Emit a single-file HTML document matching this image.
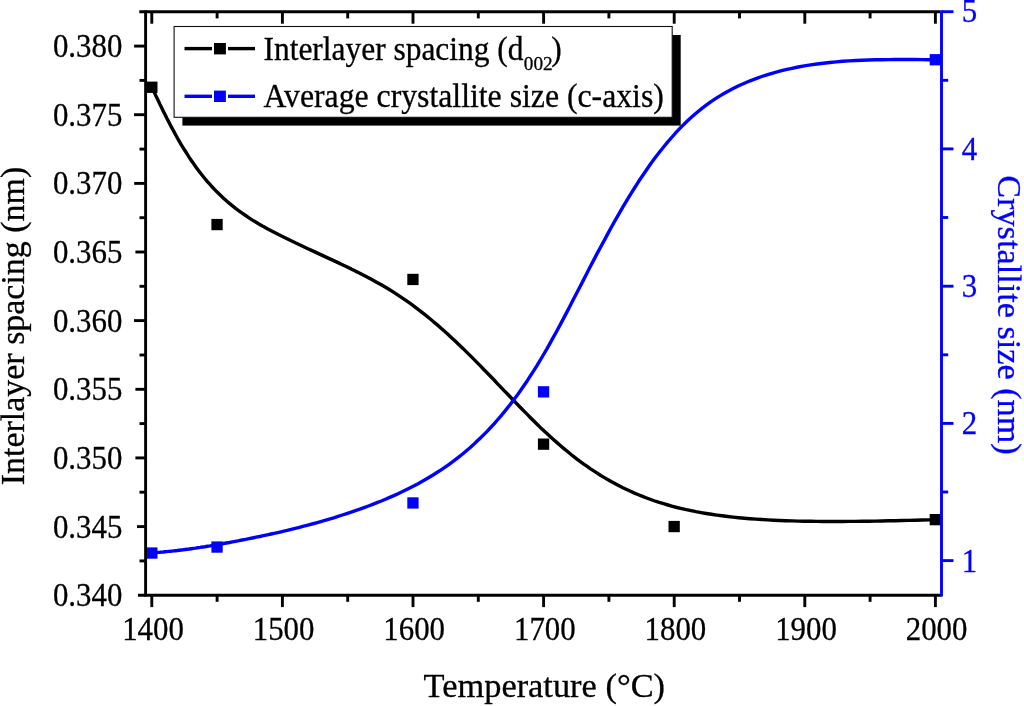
<!DOCTYPE html>
<html><head><meta charset="utf-8"><title>chart</title>
<style>html,body{margin:0;padding:0;background:#fff}body{width:1024px;height:706px;overflow:hidden;position:relative;font-family:"Liberation Serif",serif}svg{position:absolute;left:0;top:0;display:block;will-change:transform}</style></head>
<body>
<svg width="1024" height="706" viewBox="0 0 1024 706">
<rect width="1024" height="706" fill="#fff"/>
<polyline points="151.8,87.3 153.4,90.7 155.1,94.1 156.7,97.6 158.4,101.0 160.0,104.4 161.7,107.8 163.3,111.2 165.0,114.6 166.7,118.0 168.5,121.4 170.2,124.7 172.0,128.1 173.8,131.4 175.6,134.7 177.4,138.0 179.3,141.3 181.2,144.6 183.2,147.8 185.2,151.0 187.2,154.2 189.2,157.4 191.3,160.5 193.5,163.6 195.7,166.7 197.9,169.7 200.2,172.7 202.6,175.7 205.0,178.7 207.4,181.6 210.0,184.4 212.5,187.3 215.2,190.1 217.9,192.8 220.7,195.5 223.5,198.2 226.4,200.8 229.4,203.4 232.5,205.9 235.6,208.4 238.9,210.8 242.2,213.2 245.6,215.5 249.0,217.8 252.5,220.1 256.1,222.3 259.8,224.4 263.5,226.6 267.3,228.7 271.2,230.7 275.1,232.8 279.0,234.8 283.0,236.8 287.1,238.8 291.2,240.8 295.3,242.8 299.5,244.7 303.7,246.7 307.9,248.7 312.1,250.6 316.4,252.6 320.7,254.6 325.0,256.6 329.3,258.6 333.7,260.6 338.0,262.6 342.4,264.7 346.7,266.8 351.1,268.9 355.4,271.1 359.8,273.2 364.1,275.5 368.4,277.7 372.7,280.1 377.0,282.4 381.3,284.8 385.5,287.3 389.7,289.8 393.9,292.4 398.0,295.1 402.1,297.8 406.2,300.6 410.2,303.4 414.2,306.3 418.1,309.3 422.0,312.3 425.9,315.4 429.7,318.5 433.5,321.7 437.3,324.9 441.1,328.2 444.8,331.5 448.4,334.8 452.1,338.2 455.7,341.6 459.3,345.0 462.9,348.4 466.4,351.9 470.0,355.4 473.5,358.9 476.9,362.4 480.4,365.9 483.8,369.5 487.3,373.0 490.7,376.5 494.1,380.0 497.4,383.6 500.8,387.1 504.1,390.6 507.5,394.0 510.8,397.5 514.1,401.0 517.4,404.4 520.7,407.8 524.0,411.1 527.3,414.4 530.5,417.7 533.8,421.0 537.1,424.2 540.3,427.4 543.6,430.5 546.9,433.5 550.1,436.5 553.4,439.5 556.7,442.4 560.0,445.3 563.3,448.1 566.6,450.8 569.9,453.5 573.2,456.2 576.6,458.8 580.0,461.3 583.4,463.8 586.8,466.2 590.2,468.6 593.7,470.9 597.2,473.2 600.8,475.5 604.4,477.6 608.0,479.7 611.6,481.8 615.3,483.8 619.1,485.8 622.8,487.7 626.7,489.5 630.5,491.3 634.5,493.1 638.4,494.7 642.5,496.4 646.6,498.0 650.7,499.5 654.9,501.0 659.2,502.4 663.6,503.7 668.0,505.0 672.5,506.3 677.0,507.5 681.6,508.6 686.3,509.7 691.1,510.7 696.0,511.7 701.0,512.6 706.2,513.5 711.4,514.3 716.7,515.1 722.1,515.8 727.6,516.5 733.1,517.1 738.7,517.7 744.4,518.2 750.1,518.7 755.9,519.1 761.8,519.5 767.7,519.9 773.7,520.2 779.7,520.5 785.8,520.7 792.0,520.9 798.2,521.1 804.4,521.2 810.7,521.3 817.0,521.4 823.3,521.5 829.7,521.5 836.2,521.5 842.6,521.5 849.1,521.4 855.7,521.4 862.2,521.3 868.8,521.2 875.4,521.1 882.0,521.0 888.6,520.8 895.3,520.7 902.0,520.5 908.6,520.4 915.3,520.2 922.0,520.0 928.7,519.9 935.4,519.7" fill="none" stroke="#000" stroke-width="3.4" stroke-linejoin="round"/>
<polyline points="151.8,553.1 153.4,552.9 155.1,552.7 156.7,552.6 158.4,552.4 160.0,552.3 161.7,552.1 163.3,552.0 165.0,551.8 166.7,551.6 168.5,551.4 170.2,551.3 172.0,551.1 173.8,550.9 175.6,550.7 177.4,550.5 179.3,550.2 181.2,550.0 183.2,549.8 185.2,549.5 187.2,549.2 189.2,549.0 191.3,548.7 193.5,548.4 195.7,548.1 197.9,547.7 200.2,547.4 202.6,547.0 205.0,546.7 207.4,546.3 210.0,545.9 212.5,545.4 215.2,545.0 217.9,544.5 220.7,544.0 223.5,543.5 226.4,543.0 229.4,542.5 232.5,541.9 235.6,541.3 238.9,540.7 242.2,540.0 245.6,539.4 249.0,538.7 252.5,538.0 256.1,537.2 259.8,536.5 263.5,535.7 267.3,534.9 271.2,534.0 275.1,533.2 279.0,532.3 283.0,531.3 287.1,530.4 291.2,529.4 295.3,528.4 299.5,527.3 303.7,526.2 307.9,525.1 312.1,524.0 316.4,522.8 320.7,521.6 325.0,520.3 329.3,519.1 333.7,517.8 338.0,516.4 342.4,515.0 346.7,513.6 351.1,512.2 355.4,510.7 359.8,509.2 364.1,507.6 368.4,506.0 372.7,504.4 377.0,502.7 381.3,501.0 385.5,499.2 389.7,497.4 393.9,495.6 398.0,493.7 402.1,491.8 406.2,489.8 410.2,487.8 414.2,485.8 418.1,483.7 422.0,481.5 425.9,479.3 429.7,477.0 433.5,474.7 437.3,472.3 441.1,469.9 444.8,467.4 448.4,464.8 452.1,462.1 455.7,459.4 459.3,456.6 462.9,453.7 466.4,450.7 470.0,447.7 473.5,444.6 476.9,441.3 480.4,438.0 483.8,434.6 487.3,431.1 490.7,427.5 494.1,423.8 497.4,420.0 500.8,416.1 504.1,412.1 507.5,407.9 510.8,403.7 514.1,399.3 517.4,394.9 520.7,390.3 524.0,385.6 527.3,380.7 530.5,375.7 533.8,370.6 537.1,365.4 540.3,360.0 543.6,354.5 546.9,348.9 550.1,343.1 553.4,337.2 556.7,331.2 560.0,325.1 563.3,318.9 566.6,312.6 569.9,306.2 573.2,299.8 576.6,293.3 580.0,286.7 583.4,280.1 586.8,273.5 590.2,266.8 593.7,260.1 597.2,253.4 600.8,246.7 604.4,240.1 608.0,233.4 611.6,226.8 615.3,220.2 619.1,213.6 622.8,207.1 626.7,200.7 630.5,194.3 634.5,188.0 638.4,181.8 642.5,175.7 646.6,169.7 650.7,163.8 654.9,158.1 659.2,152.5 663.6,147.0 668.0,141.6 672.5,136.5 677.0,131.4 681.6,126.6 686.3,122.0 691.1,117.5 696.0,113.2 701.0,109.1 706.2,105.2 711.4,101.4 716.7,97.9 722.1,94.6 727.6,91.5 733.1,88.6 738.7,85.8 744.4,83.2 750.1,80.8 755.9,78.6 761.8,76.5 767.7,74.6 773.7,72.8 779.7,71.2 785.8,69.7 792.0,68.3 798.2,67.0 804.4,65.9 810.7,64.9 817.0,64.0 823.3,63.2 829.7,62.5 836.2,61.9 842.6,61.3 849.1,60.9 855.7,60.5 862.2,60.2 868.8,60.0 875.4,59.8 882.0,59.7 888.6,59.6 895.3,59.5 902.0,59.5 908.6,59.5 915.3,59.5 922.0,59.6 928.7,59.7 935.4,59.7" fill="none" stroke="#0000ff" stroke-width="3.4" stroke-linejoin="round"/>
<rect x="146.2" y="81.6" width="11.3" height="11.3" fill="#000"/>
<rect x="211.4" y="218.9" width="11.3" height="11.3" fill="#000"/>
<rect x="407.3" y="273.8" width="11.3" height="11.3" fill="#000"/>
<rect x="537.9" y="438.5" width="11.3" height="11.3" fill="#000"/>
<rect x="668.5" y="520.9" width="11.3" height="11.3" fill="#000"/>
<rect x="929.7" y="514.0" width="11.3" height="11.3" fill="#000"/>
<rect x="146.2" y="547.4" width="11.3" height="11.3" fill="#0000ff"/>
<rect x="211.4" y="541.4" width="11.3" height="11.3" fill="#0000ff"/>
<rect x="407.3" y="497.3" width="11.3" height="11.3" fill="#0000ff"/>
<rect x="537.9" y="386.2" width="11.3" height="11.3" fill="#0000ff"/>
<rect x="668.5" y="51.3" width="11.3" height="11.3" fill="#0000ff"/>
<rect x="929.7" y="54.1" width="11.3" height="11.3" fill="#0000ff"/>
<g stroke="#000" stroke-width="2.9" fill="none">
<line x1="138" y1="595.2" x2="941.5" y2="595.2"/>
<line x1="139.3" y1="11.8" x2="940" y2="11.8"/>
<line x1="145.6" y1="10.4" x2="145.6" y2="596.6"/>
<line x1="151.8" y1="596" x2="151.8" y2="607.1"/>
<line x1="151.8" y1="12" x2="151.8" y2="23.7"/>
<line x1="217.1" y1="596" x2="217.1" y2="601.8"/>
<line x1="217.1" y1="12" x2="217.1" y2="18.4"/>
<line x1="282.4" y1="596" x2="282.4" y2="607.1"/>
<line x1="282.4" y1="12" x2="282.4" y2="23.7"/>
<line x1="347.7" y1="596" x2="347.7" y2="601.8"/>
<line x1="347.7" y1="12" x2="347.7" y2="18.4"/>
<line x1="413.0" y1="596" x2="413.0" y2="607.1"/>
<line x1="413.0" y1="12" x2="413.0" y2="23.7"/>
<line x1="478.3" y1="596" x2="478.3" y2="601.8"/>
<line x1="478.3" y1="12" x2="478.3" y2="18.4"/>
<line x1="543.6" y1="596" x2="543.6" y2="607.1"/>
<line x1="543.6" y1="12" x2="543.6" y2="23.7"/>
<line x1="608.9" y1="596" x2="608.9" y2="601.8"/>
<line x1="608.9" y1="12" x2="608.9" y2="18.4"/>
<line x1="674.2" y1="596" x2="674.2" y2="607.1"/>
<line x1="674.2" y1="12" x2="674.2" y2="23.7"/>
<line x1="739.5" y1="596" x2="739.5" y2="601.8"/>
<line x1="739.5" y1="12" x2="739.5" y2="18.4"/>
<line x1="804.8" y1="596" x2="804.8" y2="607.1"/>
<line x1="804.8" y1="12" x2="804.8" y2="23.7"/>
<line x1="870.1" y1="596" x2="870.1" y2="601.8"/>
<line x1="870.1" y1="12" x2="870.1" y2="18.4"/>
<line x1="935.4" y1="596" x2="935.4" y2="607.1"/>
<line x1="935.4" y1="12" x2="935.4" y2="23.7"/>
<line x1="139.5" y1="560.9" x2="145" y2="560.9"/>
<line x1="137.0" y1="526.6" x2="145" y2="526.6"/>
<line x1="139.5" y1="492.2" x2="145" y2="492.2"/>
<line x1="135.4" y1="457.9" x2="145" y2="457.9"/>
<line x1="139.5" y1="423.6" x2="145" y2="423.6"/>
<line x1="135.4" y1="389.3" x2="145" y2="389.3"/>
<line x1="139.5" y1="355.0" x2="145" y2="355.0"/>
<line x1="134.0" y1="320.6" x2="145" y2="320.6"/>
<line x1="139.5" y1="286.3" x2="145" y2="286.3"/>
<line x1="135.4" y1="252.0" x2="145" y2="252.0"/>
<line x1="139.5" y1="217.7" x2="145" y2="217.7"/>
<line x1="134.2" y1="183.4" x2="145" y2="183.4"/>
<line x1="139.5" y1="149.1" x2="145" y2="149.1"/>
<line x1="134.0" y1="114.7" x2="145" y2="114.7"/>
<line x1="139.5" y1="80.4" x2="145" y2="80.4"/>
<line x1="134.1" y1="46.1" x2="145" y2="46.1"/>
</g>
<g stroke="#0000ff" stroke-width="2.9" fill="none">
<line x1="941.5" y1="10.3" x2="941.5" y2="596.6"/>
<line x1="942" y1="560.6" x2="953.5" y2="560.6"/>
<line x1="942" y1="492.0" x2="948.2" y2="492.0"/>
<line x1="942" y1="423.4" x2="953.5" y2="423.4"/>
<line x1="942" y1="354.8" x2="948.2" y2="354.8"/>
<line x1="942" y1="286.2" x2="953.5" y2="286.2"/>
<line x1="942" y1="217.5" x2="948.2" y2="217.5"/>
<line x1="942" y1="148.9" x2="953.5" y2="148.9"/>
<line x1="942" y1="80.3" x2="948.2" y2="80.3"/>
<line x1="942" y1="11.7" x2="953.5" y2="11.7"/>
</g>
<rect x="182.4" y="35" width="498.3" height="90.6" fill="#000"/>
<rect x="174.1" y="26.5" width="498.1" height="90.8" fill="#fff" stroke="#111" stroke-width="1.1"/>
<g stroke-width="3.4">
<line x1="184.5" y1="48.6" x2="212" y2="48.6" stroke="#000"/><line x1="228" y1="48.6" x2="255" y2="48.6" stroke="#000"/>
<rect x="214" y="43" width="11.9" height="11.4" fill="#000"/>
<line x1="184.5" y1="96.3" x2="212" y2="96.3" stroke="#0000ff"/><line x1="228" y1="96.3" x2="255" y2="96.3" stroke="#0000ff"/>
<rect x="214" y="90.6" width="11.9" height="11.4" fill="#0000ff"/>
</g>
<g font-family="Liberation Serif, serif">
<text transform="translate(263.50,59.60) scale(0.9612,1)" font-size="32.7px" text-anchor="start" fill="#000" stroke="#000" stroke-width="0.3">Interlayer spacing (d</text>
<text transform="translate(523.80,70.20) scale(1.03,1)" font-size="18.7px" text-anchor="start" fill="#000" stroke="#000" stroke-width="0.3">002</text>
<text transform="translate(551.20,59.60) scale(0.96,1)" font-size="32.7px" text-anchor="start" fill="#000" stroke="#000" stroke-width="0.3">)</text>
<text transform="translate(263.50,107.00) scale(0.9708,1)" font-size="32.7px" text-anchor="start" fill="#000" stroke="#000" stroke-width="0.3">Average crystallite size (c-axis)</text>
<text transform="translate(122.30,606.20) scale(0.935,1)" font-size="33.0px" text-anchor="end" fill="#000" stroke="#000" stroke-width="0.3">0.340</text>
<text transform="translate(122.30,537.56) scale(0.935,1)" font-size="33.0px" text-anchor="end" fill="#000" stroke="#000" stroke-width="0.3">0.345</text>
<text transform="translate(122.30,468.92) scale(0.935,1)" font-size="33.0px" text-anchor="end" fill="#000" stroke="#000" stroke-width="0.3">0.350</text>
<text transform="translate(122.30,400.29) scale(0.935,1)" font-size="33.0px" text-anchor="end" fill="#000" stroke="#000" stroke-width="0.3">0.355</text>
<text transform="translate(122.30,331.65) scale(0.935,1)" font-size="33.0px" text-anchor="end" fill="#000" stroke="#000" stroke-width="0.3">0.360</text>
<text transform="translate(122.30,263.01) scale(0.935,1)" font-size="33.0px" text-anchor="end" fill="#000" stroke="#000" stroke-width="0.3">0.365</text>
<text transform="translate(122.30,194.38) scale(0.935,1)" font-size="33.0px" text-anchor="end" fill="#000" stroke="#000" stroke-width="0.3">0.370</text>
<text transform="translate(122.30,125.74) scale(0.935,1)" font-size="33.0px" text-anchor="end" fill="#000" stroke="#000" stroke-width="0.3">0.375</text>
<text transform="translate(122.30,57.10) scale(0.935,1)" font-size="33.0px" text-anchor="end" fill="#000" stroke="#000" stroke-width="0.3">0.380</text>
<text transform="translate(153.00,639.60) scale(0.935,1)" font-size="33.0px" text-anchor="middle" fill="#000" stroke="#000" stroke-width="0.3">1400</text>
<text transform="translate(283.60,639.60) scale(0.935,1)" font-size="33.0px" text-anchor="middle" fill="#000" stroke="#000" stroke-width="0.3">1500</text>
<text transform="translate(414.20,639.60) scale(0.935,1)" font-size="33.0px" text-anchor="middle" fill="#000" stroke="#000" stroke-width="0.3">1600</text>
<text transform="translate(544.80,639.60) scale(0.935,1)" font-size="33.0px" text-anchor="middle" fill="#000" stroke="#000" stroke-width="0.3">1700</text>
<text transform="translate(675.40,639.60) scale(0.935,1)" font-size="33.0px" text-anchor="middle" fill="#000" stroke="#000" stroke-width="0.3">1800</text>
<text transform="translate(806.00,639.60) scale(0.935,1)" font-size="33.0px" text-anchor="middle" fill="#000" stroke="#000" stroke-width="0.3">1900</text>
<text transform="translate(936.60,639.60) scale(0.935,1)" font-size="33.0px" text-anchor="middle" fill="#000" stroke="#000" stroke-width="0.3">2000</text>
<text transform="translate(544.30,697.00) scale(1.018,1)" font-size="33.8px" text-anchor="middle" fill="#000" stroke="#000" stroke-width="0.3">Temperature (°C)</text>
<text transform="translate(24.20,326.00) rotate(-90) scale(1.004,1)" font-size="33.8px" text-anchor="middle" fill="#000" stroke="#000" stroke-width="0.3">Interlayer spacing (nm)</text>
<text transform="translate(961.80,571.60) scale(0.935,1)" font-size="33.0px" text-anchor="start" fill="#0000ff" stroke="#0000ff" stroke-width="0.3">1</text>
<text transform="translate(961.80,434.38) scale(0.935,1)" font-size="33.0px" text-anchor="start" fill="#0000ff" stroke="#0000ff" stroke-width="0.3">2</text>
<text transform="translate(961.80,297.15) scale(0.935,1)" font-size="33.0px" text-anchor="start" fill="#0000ff" stroke="#0000ff" stroke-width="0.3">3</text>
<text transform="translate(961.80,159.93) scale(0.935,1)" font-size="33.0px" text-anchor="start" fill="#0000ff" stroke="#0000ff" stroke-width="0.3">4</text>
<text transform="translate(961.80,21.50) scale(0.935,1)" font-size="33.0px" text-anchor="start" fill="#0000ff" stroke="#0000ff" stroke-width="0.3">5</text>
<text transform="translate(998.00,315.00) rotate(90) scale(1.013,1)" font-size="33.8px" text-anchor="middle" fill="#0000ff" stroke="#0000ff" stroke-width="0.3">Crystallite size (nm)</text>
</g>
</svg>
</body></html>
